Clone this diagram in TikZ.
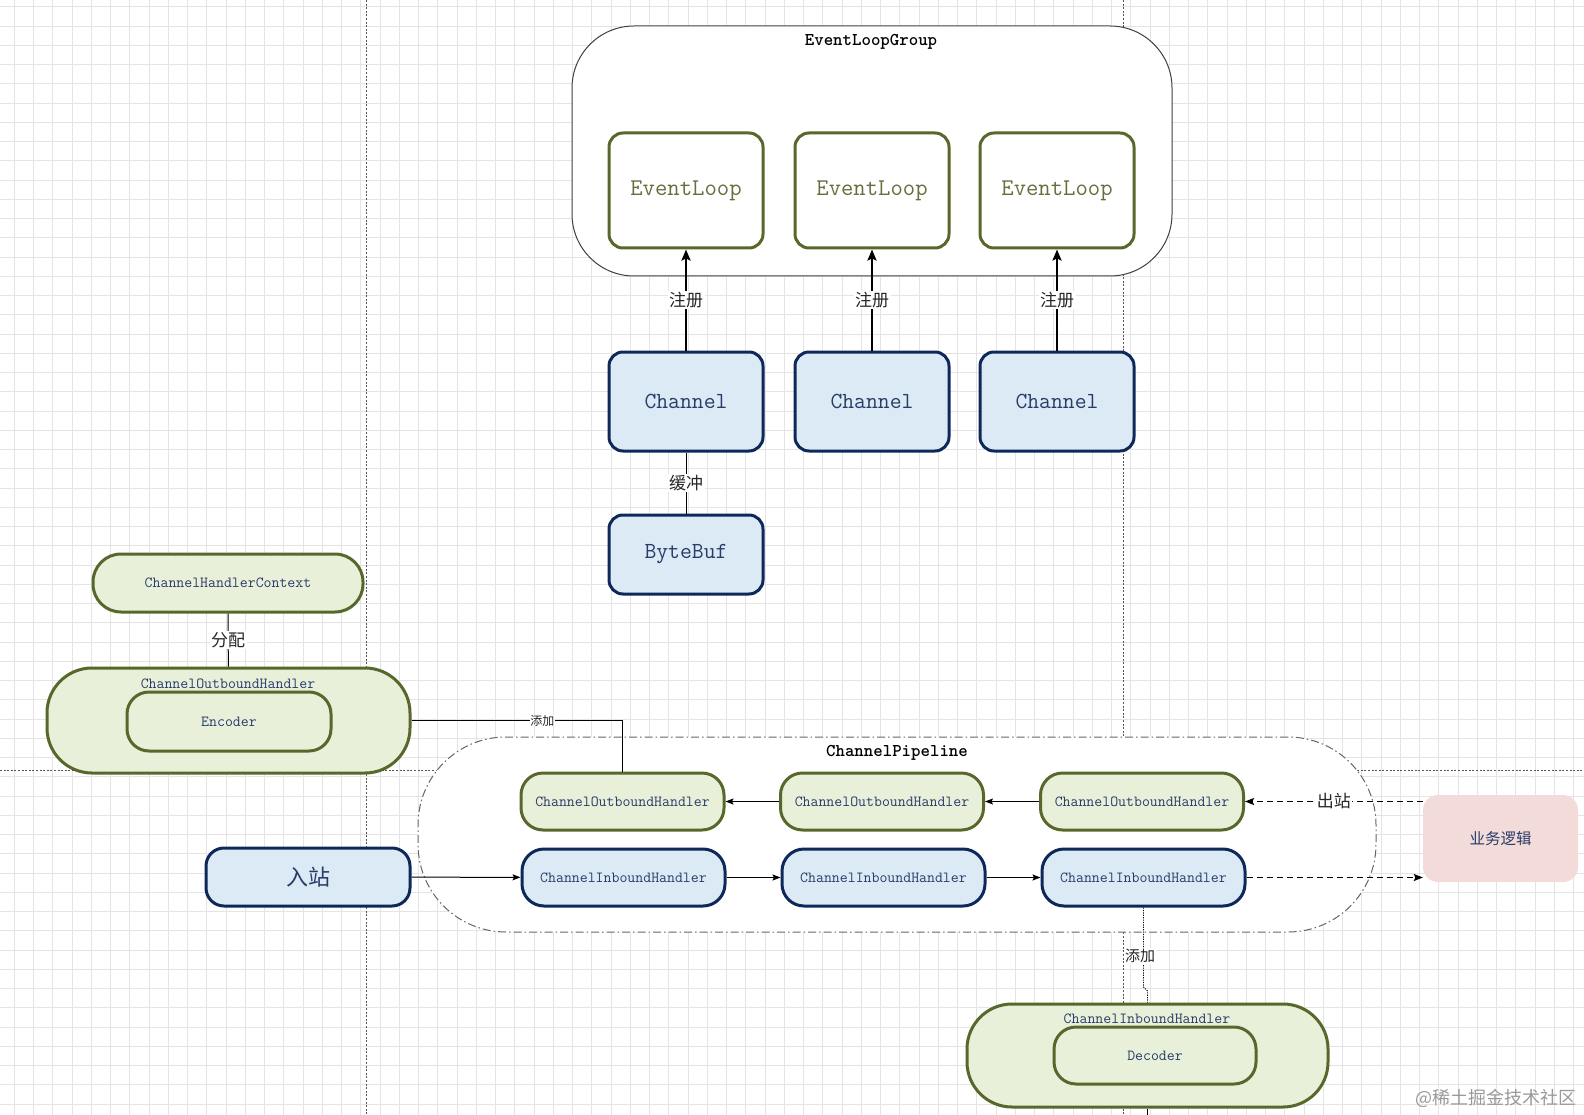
\documentclass[tikz,border=0pt]{standalone}
\usepackage{fontspec}
\newfontfamily\cjk{Noto Sans CJK SC}
\usetikzlibrary{arrows.meta}
\definecolor{olive}{RGB}{88,104,44}
\definecolor{olivetxt}{RGB}{100,112,60}
\definecolor{lgreen}{RGB}{233,240,218}
\definecolor{navy}{RGB}{14,40,90}
\definecolor{lblue}{RGB}{219,234,244}
\definecolor{navytxt}{RGB}{40,60,105}
\definecolor{pinkf}{RGB}{243,219,218}
\definecolor{gridc}{RGB}{228,228,228}
\definecolor{bgdash}{RGB}{85,85,85}
\begin{document}
\begin{tikzpicture}[x=1pt,y=-1pt,
  gridline/.style={gridc, line width=0.7pt},
  bgline/.style={bgdash, line width=0.8pt, dash pattern=on 2pt off 1.6pt},
  grp/.style={draw=black!75, line width=1pt, fill=white, rounded corners=62pt},
  pipe/.style={draw=black!60, line width=1pt, fill=white, rounded corners=88pt,
    dash pattern=on 8pt off 3pt on 1.5pt off 3pt},
  elbox/.style={draw=olive, line width=3pt, fill=white, rounded corners=14pt,
    text=olivetxt, font=\ttfamily\fontsize{24}{26}\selectfont,
    minimum width=154pt, minimum height=115pt},
  chbox/.style={draw=navy, line width=3pt, fill=lblue, rounded corners=14pt,
    text=navytxt, font=\ttfamily\fontsize{23}{25}\selectfont,
    minimum width=154pt},
  gbox/.style={draw=olive, line width=3pt, fill=lgreen, text=navytxt,
    font=\ttfamily\fontsize{15.4}{17}\selectfont},
  bbox/.style={draw=navy, line width=3pt, fill=lblue, text=navytxt,
    font=\ttfamily\fontsize{15.4}{17}\selectfont},
  hand/.style={minimum width=203pt, minimum height=57pt, rounded corners=22pt},
  ttl/.style={font=\ttfamily\bfseries\fontsize{18}{20}\selectfont, text=black},
  sub/.style={font=\ttfamily\fontsize{15.4}{17}\selectfont, text=navytxt, inner sep=0pt},
  lbl/.style={fill=white, inner sep=1.5pt, text=black!85, font=\cjk\fontsize{17}{19}\selectfont},
  thickarr/.style={line width=2.2pt, -{Stealth[length=11pt,width=9pt,inset=2pt]}},
  thinarr/.style={line width=1pt, -{Stealth[length=8pt,width=6pt,inset=1.5pt]}},
  dasharr/.style={line width=1.2pt, dash pattern=on 6pt off 4pt, -{Stealth[length=9pt,width=7pt,inset=1.5pt]}},
  dotline/.style={line width=0.9pt, dash pattern=on 1.2pt off 1.2pt}
]
\useasboundingbox (0,0) rectangle (1584,1115);
\fill[white] (0,0) rectangle (1584,1115);
% grid
\foreach \i in {0,...,82} \draw[gridline] ({14.3+\i*19.25},0) -- ({14.3+\i*19.25},1115);
\foreach \j in {0,...,57} \draw[gridline] (0,{6.7+\j*19.25}) -- (1584,{6.7+\j*19.25});
% background dashed guides
\draw[bgline] (366,0) -- (366,1115);
\draw[bgline] (1123,0) -- (1123,1115);
\draw[bgline] (0,770) -- (1584,770);

% EventLoopGroup
\node[grp, minimum width=600pt, minimum height=250pt] (elg) at (872,151) {};
\node[ttl] (elgt) at (871,42) {EventLoopGroup};
\node[elbox] (el1) at (686,190.5) {EventLoop};
\node[elbox] (el2) at (872,190.5) {EventLoop};
\node[elbox] (el3) at (1057,190.5) {EventLoop};

% Channels
\node[chbox, minimum height=99pt] (ch1) at (686,401.5) {Channel};
\node[chbox, minimum height=99pt] (ch2) at (872,401.5) {Channel};
\node[chbox, minimum height=99pt] (ch3) at (1057,401.5) {Channel};
\node[chbox, minimum height=79pt] (bb) at (686,554.5) {ByteBuf};

\draw[thickarr] (ch1) -- (el1) node[lbl, midway] {注册};
\draw[thickarr] (ch2) -- (el2) node[lbl, midway] {注册};
\draw[thickarr] (ch3) -- (el3) node[lbl, midway] {注册};
\draw[line width=1pt] (ch1) -- (bb) node[lbl, midway] {缓冲};

% Context and Encoder
\node[gbox, minimum width=270pt, minimum height=58pt, rounded corners=28pt] (ctx) at (228,583) {ChannelHandlerContext};
\node[gbox, minimum width=363pt, minimum height=105pt, rounded corners=45pt] (enc) at (228.5,720.5) {};
\node[sub] (enct) at (228,684) {ChannelOutboundHandler};
\node[gbox, minimum width=204pt, minimum height=59pt, rounded corners=22pt] (encin) at (229,721.5) {Encoder};
\draw[line width=1pt] (ctx) -- (enc) node[lbl, midway] {分配};

% Pipeline
\node[pipe, minimum width=958pt, minimum height=195pt] (pl) at (897,834.5) {};
\node[ttl] (plt) at (897,753) {ChannelPipeline};
\node[gbox, hand] (o1) at (622.5,801.5) {ChannelOutboundHandler};
\node[gbox, hand] (o2) at (882,801.5) {ChannelOutboundHandler};
\node[gbox, hand] (o3) at (1142,801.5) {ChannelOutboundHandler};
\node[bbox, hand] (i1) at (623.5,877.5) {ChannelInboundHandler};
\node[bbox, hand] (i2) at (883.5,877.5) {ChannelInboundHandler};
\node[bbox, hand] (i3) at (1143.5,877.5) {ChannelInboundHandler};

\node[bbox, minimum width=204pt, minimum height=58pt, rounded corners=18pt,
  font=\cjk\fontsize{22}{24}\selectfont] (in) at (308,877) {入站};
\node[fill=pinkf, rounded corners=15pt, minimum width=155pt, minimum height=87pt,
  text=navytxt, font=\cjk\fontsize{15.5}{17}\selectfont] (biz) at (1500.5,838.5) {业务逻辑};

\draw[line width=1pt] (enc.east) -| (o1.north)
  node[lbl, pos=0.31, inner sep=0.5pt, font=\cjk\fontsize{12}{13}\selectfont] {添加};
\draw[thinarr] (in) -- (i1);
\draw[thinarr] (i1) -- (i2);
\draw[thinarr] (i2) -- (i3);
\draw[thinarr] (o2) -- (o1);
\draw[thinarr] (o3) -- (o2);
\draw[dasharr] (biz.west |- o3.east) -- (o3.east) node[lbl, midway] {出站};
\draw[dasharr] (i3.east) -- (i3.east -| biz.west);

% Decoder
\node[gbox, minimum width=361pt, minimum height=103pt, rounded corners=45pt] (dec) at (1147.5,1055.5) {};
\node[sub] (dect) at (1147,1019) {ChannelInboundHandler};
\node[gbox, minimum width=202pt, minimum height=57pt, rounded corners=22pt] (decin) at (1155,1055.5) {Decoder};
\coordinate (j1) at (1143.5,987);
\coordinate (j2) at (1147.5,991);
\draw[dotline] (i3.south) -- (j1) -- (j2) -- (j2 |- dec.north);
\node[lbl, font=\cjk\fontsize{15}{17}\selectfont, inner sep=1pt] (addl) at (1140,956) {添加};
\coordinate (j3) at (1147.5,1115);
\draw[line width=0.9pt] (j2 |- dec.south) -- (j3);

% watermark
\node[text=black!40, font=\cjk\fontsize{18}{20}\selectfont, anchor=east] (wm) at (1580,1098) {@稀土掘金技术社区};
\end{tikzpicture}
\end{document}
